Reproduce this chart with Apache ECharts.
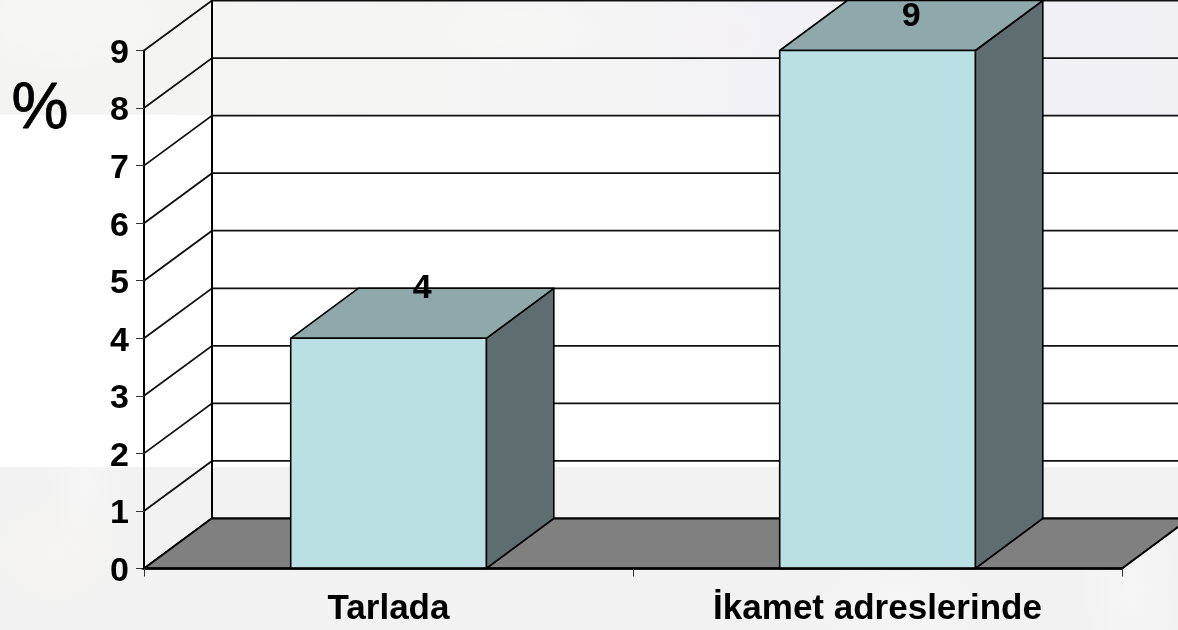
<!DOCTYPE html>
<html>

<head>
    <meta charset="utf-8">
    <title>Tarlada / İkamet adreslerinde</title>
    <script src="https://cdn.jsdelivr.net/npm/echarts@6/dist/echarts.min.js"></script>
    <style>
        html, body { margin: 0; padding: 0; background: #fff; }
        #bg_top { position: absolute; left: 0; top: 0; width: 1178px; height: 115px;
            background:
                radial-gradient(ellipse 120px 60px at 60px 20px, rgba(255,255,255,.3), rgba(255,255,255,0)),
                radial-gradient(ellipse 90px 40px at 520px 30px, rgba(250,250,248,.5), rgba(255,255,255,0)),
                radial-gradient(ellipse 60px 30px at 720px 35px, rgba(247,240,243,.5), rgba(255,255,255,0)),
                linear-gradient(90deg, #f4f4f3 0%, #f5f5f4 30%, #f4f4f5 55%, #f1f1f7 70%, #f0f0f6 85%, #f1f1f4 100%); }
        #bg_bottom { position: absolute; left: 0; top: 467px; width: 1178px; height: 163px;
            background:
                radial-gradient(ellipse 70px 60px at 55px 85px, rgba(250,247,243,.6), rgba(255,255,255,0)),
                radial-gradient(ellipse 40px 90px at 85px 10px, rgba(250,250,250,.5), rgba(255,255,255,0)),
                radial-gradient(ellipse 50px 90px at 1130px 120px, rgba(250,250,250,.5), rgba(255,255,255,0)),
                radial-gradient(ellipse 90px 60px at 900px 140px, rgba(248,248,248,.7), rgba(255,255,255,0)),
                #f2f2f2; }
        #chart { position: absolute; left: 0; top: 0; width: 1178px; height: 630px; }
    </style>
</head>

<body>
    <div id="bg_top"></div>
    <div id="bg_bottom"></div>
    <div id="chart"></div>

    <script>
        var categories = ['Tarlada', 'İkamet adreslerinde'];
        var values = [4, 9];
        var yTicks = [0, 1, 2, 3, 4, 5, 6, 7, 8, 9];

        var depthX = 67.5;
        var depthY = 50;
        var barShare = 0.4;
        var font = '"Liberation Sans", Arial, sans-serif';

        var chart = echarts.init(document.getElementById('chart'));

        function renderWall(params, api) {
            var v = api.value(0);
            var p = api.coord([0, v]);
            var left = p[0] - api.size([1, 0])[0] / 2;
            return {
                type: 'polyline',
                shape: { points: [[left, p[1]], [left + depthX + 0.5, p[1] - depthY], [api.getWidth(), p[1] - depthY]] },
                style: { stroke: '#111', lineWidth: 1.8, fill: null }
            };
        }

        function renderFloor(params, api) {
            var band = api.size([1, 0])[0];
            var p0 = api.coord([0, 0]);
            var p1 = api.coord([1, 0]);
            var left = p0[0] - band / 2;
            var right = p1[0] + band / 2;
            var y = p0[1];
            return {
                type: 'group',
                children: [
                    {
                        type: 'line',
                        shape: { x1: left + depthX + 0.5, y1: y - depthY, x2: left + depthX + 0.5, y2: api.coord([0, 9])[1] - depthY },
                        style: { stroke: '#000', lineWidth: 2 }
                    },
                    {
                        type: 'polygon',
                        shape: { points: [[left, y], [left + depthX, y - depthY], [right + depthX, y - depthY], [right, y]] },
                        style: { fill: '#808080', stroke: '#000', lineWidth: 2 }
                    }
                ]
            };
        }

        function renderBar(params, api) {
            var idx = api.value(0);
            var val = api.value(1);
            var band = api.size([1, 0])[0];
            var w = band * barShare;
            var top = api.coord([idx, val]);
            var base = api.coord([idx, 0]);
            var x0 = top[0] - w / 2;
            var x1 = top[0] + w / 2;
            var edge = { stroke: '#000', lineWidth: 1.6, lineJoin: 'round' };
            return {
                type: 'group',
                children: [
                    {
                        type: 'polygon',
                        shape: { points: [[x1, top[1]], [x1 + depthX, top[1] - depthY], [x1 + depthX, base[1] - depthY], [x1, base[1]]] },
                        style: Object.assign({ fill: '#5d6d70' }, edge)
                    },
                    {
                        type: 'polygon',
                        shape: { points: [[x0, top[1]], [x0 + depthX, top[1] - depthY], [x1 + depthX, top[1] - depthY], [x1, top[1]]] },
                        style: Object.assign({ fill: '#8fa8aa' }, edge)
                    },
                    {
                        type: 'rect',
                        shape: { x: x0, y: top[1], width: w, height: base[1] - top[1] },
                        style: Object.assign({ fill: '#bae0e3' }, edge)
                    },
                    {
                        type: 'text',
                        style: {
                            text: String(val),
                            x: top[0] + depthX / 2,
                            y: Math.max(17, top[1] - depthY),
                            align: 'center',
                            verticalAlign: 'middle',
                            font: 'bold 34px ' + font,
                            fill: '#000'
                        }
                    }
                ]
            };
        }

        var option = {
            animation: false,
            backgroundColor: 'transparent',
            grid: { left: 144, right: 56, top: 50.5, bottom: 61.5, containLabel: false },
            graphic: [{
                type: 'text',
                left: 11,
                top: 78,
                silent: true,
                style: { text: '%', font: '64px ' + font, fill: '#000', stroke: '#000', lineWidth: 0.8 }
            }],
            xAxis: {
                type: 'category',
                data: categories,
                z: 5,
                axisLine: { lineStyle: { color: '#000', width: 2.5 } },
                axisTick: { show: true, length: 8, lineStyle: { color: '#333', width: 1 } },
                axisLabel: { color: '#000', fontFamily: font, fontWeight: 'bold', fontSize: 35, margin: 23, interval: 0 }
            },
            yAxis: {
                type: 'value',
                min: 0,
                max: 9,
                interval: 1,
                splitLine: { show: false },
                axisLine: { show: true, lineStyle: { color: '#000', width: 2 } },
                axisTick: { show: true, length: 8, lineStyle: { color: '#333', width: 1 } },
                axisLabel: {
                    color: '#000',
                    margin: 15,
                    formatter: '{n|{value}}',
                    rich: { n: { fontFamily: font, fontWeight: 'bold', fontSize: 34, color: '#000', padding: [6, 0, 0, 0] } }
                }
            },
            series: [
                { type: 'custom', z: 1, silent: true, clip: false, renderItem: renderWall, encode: { y: 0 }, data: yTicks.map(function (t) { return [t]; }) },
                { type: 'custom', z: 2, silent: true, clip: false, renderItem: renderFloor, data: [[0]] },
                {
                    type: 'custom', z: 3, silent: true, clip: false, renderItem: renderBar,
                    encode: { x: 0, y: 1 },
                    data: values.map(function (v, i) { return [i, v]; })
                }
            ]
        };
        chart.setOption(option);
    </script>
</body>

</html>
